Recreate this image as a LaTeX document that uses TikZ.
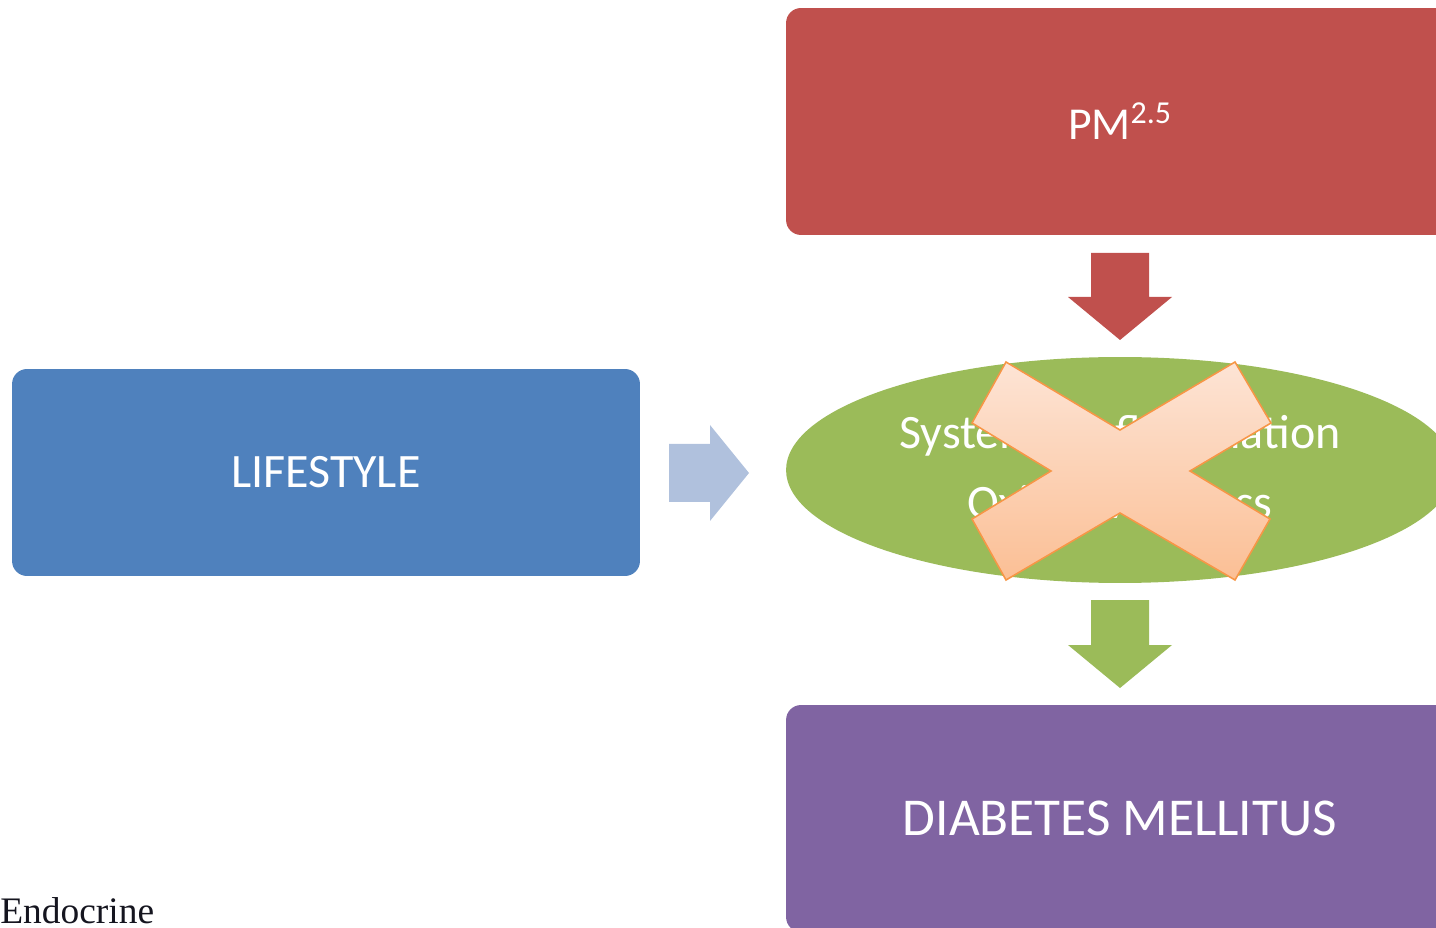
\documentclass[tikz,border=0pt]{standalone}
\usepackage{fontspec}
\setmainfont{Carlito}
\newfontfamily\dmSerif{Liberation Serif}
\usepackage{tikz}
\usetikzlibrary{shapes.geometric}
\definecolor{dmRed}{HTML}{C0504D}
\definecolor{dmGreen}{HTML}{9BBB59}
\definecolor{dmBlue}{HTML}{4F81BD}
\definecolor{dmPurple}{HTML}{8064A2}
\definecolor{dmPale}{HTML}{B0C1DD}
\definecolor{dmOrange}{HTML}{F79646}
\definecolor{dmPeachTop}{HTML}{FDE4D5}
\definecolor{dmPeachBot}{HTML}{FBBF95}
\definecolor{dmInk}{HTML}{15151F}
\tikzset{
  dm diagram/.style={x=0.02cm, y=-0.02cm, text=white,
    font=\fontsize{26}{31}\selectfont},
  dm box/.style={rounded corners=8.5pt, inner sep=0pt, align=center,
    minimum width=13.36cm, minimum height=4.54cm},
  dm oval/.style={ellipse, fill=dmGreen, inner sep=0pt, align=center,
    minimum width=13.36cm, minimum height=4.52cm,
    font=\fontsize{27.3}{39.7}\selectfont},
  dm cross/.style={top color=dmPeachTop, bottom color=dmPeachBot,
    draw=dmOrange, line width=0.9pt, line join=miter},
  dm note/.style={anchor=base west, inner sep=0pt, text=dmInk,
    font=\dmSerif\fontsize{21.3}{25}\selectfont}
}
\begin{document}
\begin{tikzpicture}[dm diagram]
\useasboundingbox (0,0) rectangle (1436,928);
\clip (0,0) rectangle (1436,928);
\node[dm box,fill=dmRed] (pm) at (1120,121.5) {PM\textsuperscript{2.5}};
\node[dm oval] (stress) at (1120,470) {};
\node[align=center,font=\fontsize{27.3}{39.7}\selectfont] (stresstext) at (1120,467) {Systemic inflammation\\Oxidative stress};
\node[dm box,fill=dmPurple,font=\fontsize{30.3}{36}\selectfont] (dm) at (1120,818.5) {DIABETES MELLITUS};
\node[dm box,fill=dmBlue,minimum width=12.56cm,minimum height=4.14cm,
  font=\fontsize{27.3}{32}\selectfont] (life) at (326,472.5) {LIFESTYLE};
\fill[dmRed] (1091,253) -- (1149,253) -- (1149,297) -- (1172,297) -- (1120,340)
  -- (1068,297) -- (1091,297) -- cycle;
\fill[dmGreen] (1091,600) -- (1149,600) -- (1149,645) -- (1172,645) -- (1120,688)
  -- (1068,645) -- (1091,645) -- cycle;
\fill[dmPale] (669,444) -- (710,444) -- (710,425) -- (749,473) -- (710,521)
  -- (710,502) -- (669,502) -- cycle;
\shadedraw[dm cross] (1006,362) -- (1120,430) -- (1235,362) -- (1271,423)
  -- (1190,471) -- (1270,519) -- (1235,580) -- (1120,513) -- (1006,580)
  -- (972,519) -- (1051,471) -- (972,423) -- cycle;
\node[dm note] (endo) at (0,923) {Endocrine};
\end{tikzpicture}
\end{document}
